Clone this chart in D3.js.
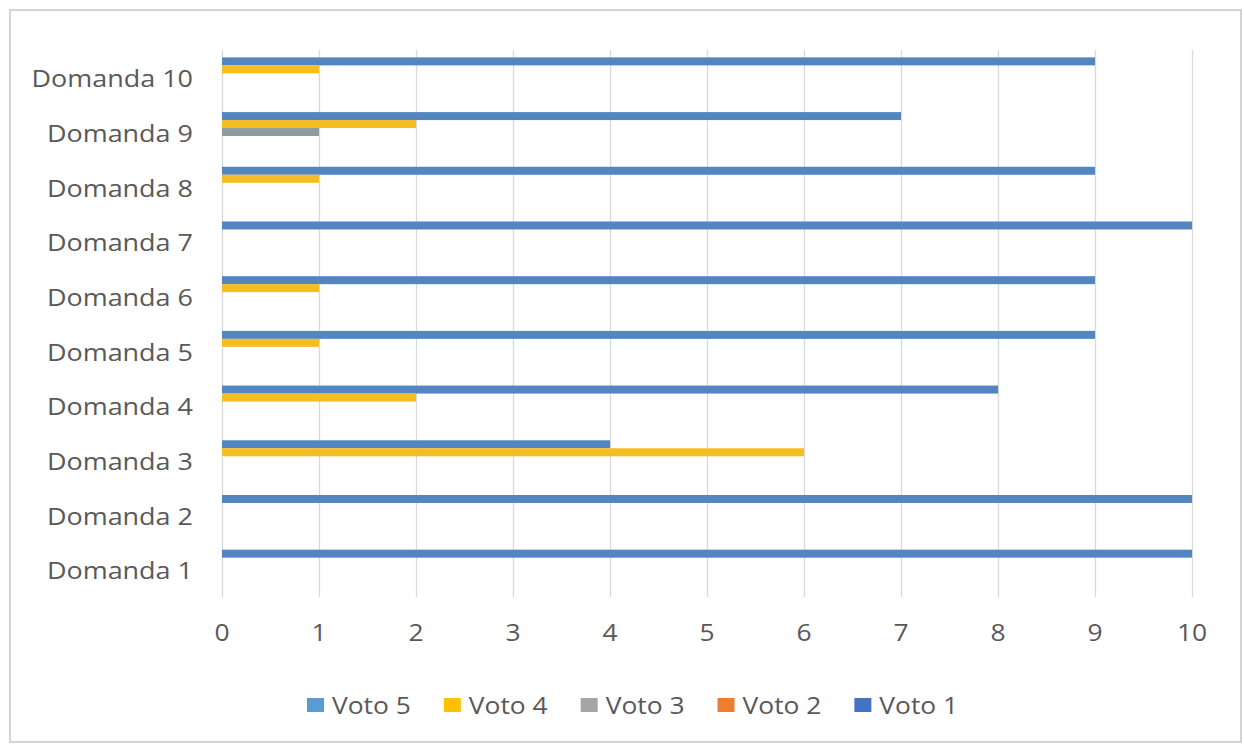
<!DOCTYPE html>
<html>
<head>
<meta charset="utf-8">
<script src="https://cdn.jsdelivr.net/npm/d3@7/dist/d3.min.js"></script>
<style>
  html, body { margin: 0; padding: 0; background: #ffffff; }
  svg { display: block; }
  text { font-family: "Open Sans", "Noto Sans", sans-serif; fill: #595959; }
</style>
</head>
<body>
<svg id="chart" width="1244" height="747"></svg>
<script>
// Questions, bottom to top as listed on the axis
const categories = ["Domanda 1", "Domanda 2", "Domanda 3", "Domanda 4", "Domanda 5",
                    "Domanda 6", "Domanda 7", "Domanda 8", "Domanda 9", "Domanda 10"];

// Number of answers per vote, one array per series (same order as categories)
const voto1 = [0, 0, 0, 0, 0, 0, 0, 0, 0, 0];
const voto2 = [0, 0, 0, 0, 0, 0, 0, 0, 0, 0];
const voto3 = [0, 0, 0, 0, 0, 0, 0, 0, 1, 0];
const voto4 = [0, 0, 6, 2, 1, 1, 0, 1, 2, 1];
const voto5 = [10, 10, 4, 8, 9, 9, 10, 9, 7, 9];

const xTicks = [0, 1, 2, 3, 4, 5, 6, 7, 8, 9, 10];

// Series in drawing order within a group: top to bottom
const series = [
  { name: "Voto 5", values: voto5, color: "#5386c0", legend: "#5b9bd5" },
  { name: "Voto 4", values: voto4, color: "#f5bd1f", legend: "#ffc000" },
  { name: "Voto 3", values: voto3, color: "#8f9a9c", legend: "#a5a5a5" },
  { name: "Voto 2", values: voto2, color: "#ed7d31", legend: "#ed7d31" },
  { name: "Voto 1", values: voto1, color: "#4472c4", legend: "#4472c4" }
];

// Text is drawn slightly widened horizontally
const stretch = 1.1;
const widen = (sel, ax) => sel.attr("transform", `translate(${ax},0) scale(${stretch},1) translate(${-ax},0)`);

const svg = d3.select("#chart");

// Chart frame
svg.append("rect")
  .attr("x", 10).attr("y", 10)
  .attr("width", 1231).attr("height", 732)
  .attr("fill", "#ffffff")
  .attr("stroke", "#d4d4d4")
  .attr("stroke-width", 2);

const plot = { left: 222, right: 1192, top: 50, bottom: 597 };

const x = d3.scaleLinear().domain([0, 10]).range([plot.left, plot.right]);

// Categories run from bottom (Domanda 1) to top (Domanda 10)
const y = d3.scaleBand()
  .domain(categories.slice().reverse())
  .range([plot.top, plot.bottom])
  .paddingInner(0.27)
  .paddingOuter(0.135);

const ySub = d3.scaleBand()
  .domain(series.map(s => s.name))
  .range([0, y.bandwidth()]);

// Vertical gridlines
const grid = svg.append("g")
  .attr("transform", `translate(0,${plot.bottom})`)
  .call(d3.axisBottom(x).tickValues(xTicks).tickSize(-(plot.bottom - plot.top)).tickFormat(""));
grid.select(".domain").remove();
grid.selectAll("line").attr("stroke", "#d9d9d9").attr("stroke-width", 1.3);

// Bars
const groups = svg.append("g").selectAll("g")
  .data(series)
  .join("g")
  .attr("fill", d => d.color);

groups.selectAll("rect")
  .data(s => s.values.map((v, i) => ({ cat: categories[i], v, name: s.name })))
  .join("rect")
  .attr("x", x(0))
  .attr("y", d => y(d.cat) + ySub(d.name))
  .attr("width", d => x(d.v) - x(0))
  .attr("height", ySub.bandwidth());

// X tick labels
svg.append("g").selectAll("text")
  .data(xTicks)
  .join("text")
  .attr("x", d => x(d))
  .attr("y", 632)
  .attr("dy", "0.36em")
  .attr("text-anchor", "middle")
  .style("font-size", "24px")
  .text(d3.format("d"))
  .each(function (d) { widen(d3.select(this), x(d)); });

// Category labels
const labelRight = plot.left - 29;
svg.append("g").selectAll("text")
  .data(categories)
  .join("text")
  .attr("x", labelRight)
  .attr("y", d => y(d) + y.bandwidth() / 2 + 1)
  .attr("dy", "0.36em")
  .attr("text-anchor", "end")
  .style("font-size", "24.5px")
  .text(d => d)
  .call(widen, labelRight);

// Legend, laid out left to right from measured label widths
const legend = svg.append("g");
let lx = 307;
series.forEach(s => {
  legend.append("rect")
    .attr("x", lx).attr("y", 698)
    .attr("width", 17).attr("height", 14)
    .attr("fill", s.legend);
  const t = legend.append("text")
    .attr("x", lx + 25)
    .attr("y", 705)
    .attr("dy", "0.36em")
    .style("font-size", "24px")
    .text(s.name);
  widen(t, lx + 25);
  lx += 25 + t.node().getComputedTextLength() * stretch + 33;
});
</script>
</body>
</html>
